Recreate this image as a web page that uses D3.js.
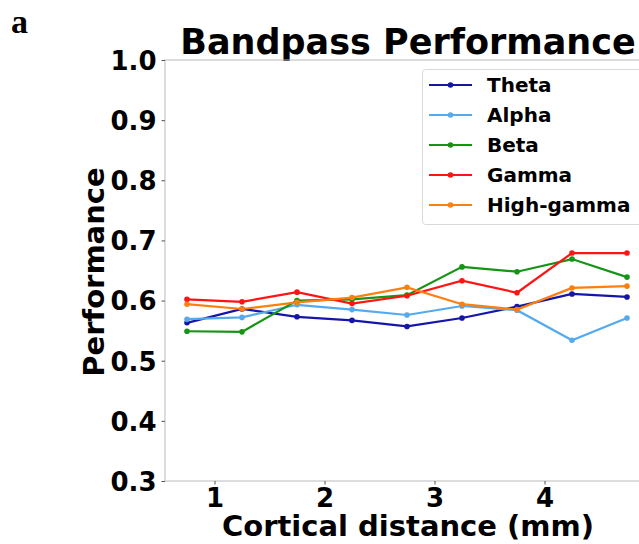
<!DOCTYPE html>
<html>
<head>
<meta charset="utf-8">
<script src="https://cdn.jsdelivr.net/npm/d3@7"></script>
<style>
  body { margin: 0; background: #fff; overflow: hidden; }
  text { font-family: "DejaVu Sans", sans-serif; font-weight: bold; }
</style>
</head>
<body>
<div id="chart"></div>
<script>
// distances (mm) and performance per frequency band
var distances = [0.75, 1.25, 1.75, 2.25, 2.75, 3.25, 3.75, 4.25, 4.75];
var theta     = [0.563, 0.586, 0.573, 0.567, 0.557, 0.571, 0.590, 0.611, 0.606];
var alpha     = [0.569, 0.572, 0.593, 0.585, 0.576, 0.591, 0.584, 0.534, 0.571];
var beta      = [0.549, 0.548, 0.600, 0.602, 0.609, 0.656, 0.648, 0.669, 0.639];
var gamma     = [0.602, 0.598, 0.614, 0.595, 0.608, 0.633, 0.613, 0.679, 0.679];
var highGamma = [0.594, 0.586, 0.597, 0.605, 0.622, 0.594, 0.585, 0.621, 0.624];
var bandNames = ["Theta", "Alpha", "Beta", "Gamma", "High-gamma"];
var bandColors = ["#1515a8", "#55aaee", "#159415", "#ff1414", "#ff7f0e"];
var xTicks = [1, 2, 3, 4];
var yTicks = [0.3, 0.4, 0.5, 0.6, 0.7, 0.8, 0.9, 1.0];

var bands = [theta, alpha, beta, gamma, highGamma];

var svg = d3.select("#chart")
    .append("svg")
    .attr("width", 639)
    .attr("height", 544);

var x = d3.scaleLinear().domain([0.55, 4.95]).range([165, 649]);
var y = d3.scaleLinear().domain([0.3, 1.0]).range([481, 60]);

// panel letter
svg.append("text")
    .attr("x", 11).attr("y", 33)
    .style("font-family", "'Liberation Serif', serif")
    .style("font-size", "34px")
    .text("a");

// title
svg.append("text")
    .attr("x", 408).attr("y", 54)
    .attr("text-anchor", "middle")
    .style("font-size", "35px")
    .text("Bandpass Performance");

// frame
svg.append("rect")
    .attr("x", 165).attr("y", 60)
    .attr("width", 484).attr("height", 421)
    .attr("fill", "none")
    .attr("stroke", "#bbbbbb")
    .attr("stroke-width", 1);

// axes
var xAxis = svg.append("g")
    .attr("transform", "translate(0,481)")
    .call(d3.axisBottom(x).tickValues(xTicks).tickSize(3.5).tickPadding(4).tickFormat(d3.format("d")));
var yAxis = svg.append("g")
    .attr("transform", "translate(165,0)")
    .call(d3.axisLeft(y).tickValues(yTicks).tickSize(3.5).tickPadding(5).tickFormat(d3.format(".1f")));

[xAxis, yAxis].forEach(function(ax) {
    ax.select(".domain").remove();
    ax.selectAll(".tick line").attr("stroke", "#555");
    ax.selectAll(".tick text")
        .attr("fill", "#000")
        .style("font-family", "'DejaVu Sans', sans-serif")
        .style("font-weight", "bold")
        .style("font-size", "26px");
});
xAxis.selectAll(".tick text").attr("dy", "0.71em");
yAxis.selectAll(".tick text").attr("dy", "0.36em");

// axis labels
svg.append("text")
    .attr("x", 408).attr("y", 536)
    .attr("text-anchor", "middle")
    .style("font-size", "29px")
    .text("Cortical distance (mm)");

svg.append("text")
    .attr("transform", "translate(104,272) rotate(-90)")
    .attr("text-anchor", "middle")
    .style("font-size", "29px")
    .text("Performance");

// lines
var line = d3.line()
    .x(function(d, i) { return x(distances[i]); })
    .y(function(d) { return y(d); });

var plot = svg.append("g");
bands.forEach(function(vals, k) {
    plot.append("path")
        .datum(vals)
        .attr("d", line)
        .attr("fill", "none")
        .attr("stroke", bandColors[k])
        .attr("stroke-width", 2.2);
    plot.selectAll(".pt" + k)
        .data(vals)
        .enter().append("circle")
        .attr("cx", function(d, i) { return x(distances[i]); })
        .attr("cy", function(d) { return y(d); })
        .attr("r", 2.8)
        .attr("fill", bandColors[k]);
});

// legend
var legend = svg.append("g");
legend.append("rect")
    .attr("x", 422.5).attr("y", 69.5)
    .attr("width", 230).attr("height", 155)
    .attr("rx", 3)
    .attr("fill", "#fff")
    .attr("fill-opacity", 0.85)
    .attr("stroke", "#d9d9d9");

bandNames.forEach(function(name, k) {
    var ly = 85 + k * 30;
    legend.append("line")
        .attr("x1", 429).attr("x2", 472)
        .attr("y1", ly).attr("y2", ly)
        .attr("stroke", bandColors[k])
        .attr("stroke-width", 2.2);
    legend.append("circle")
        .attr("cx", 450.5).attr("cy", ly)
        .attr("r", 2.8)
        .attr("fill", bandColors[k]);
    legend.append("text")
        .attr("x", 487).attr("y", ly)
        .attr("dy", "0.36em")
        .style("font-size", "20px")
        .text(name);
});
</script>
</body>
</html>
